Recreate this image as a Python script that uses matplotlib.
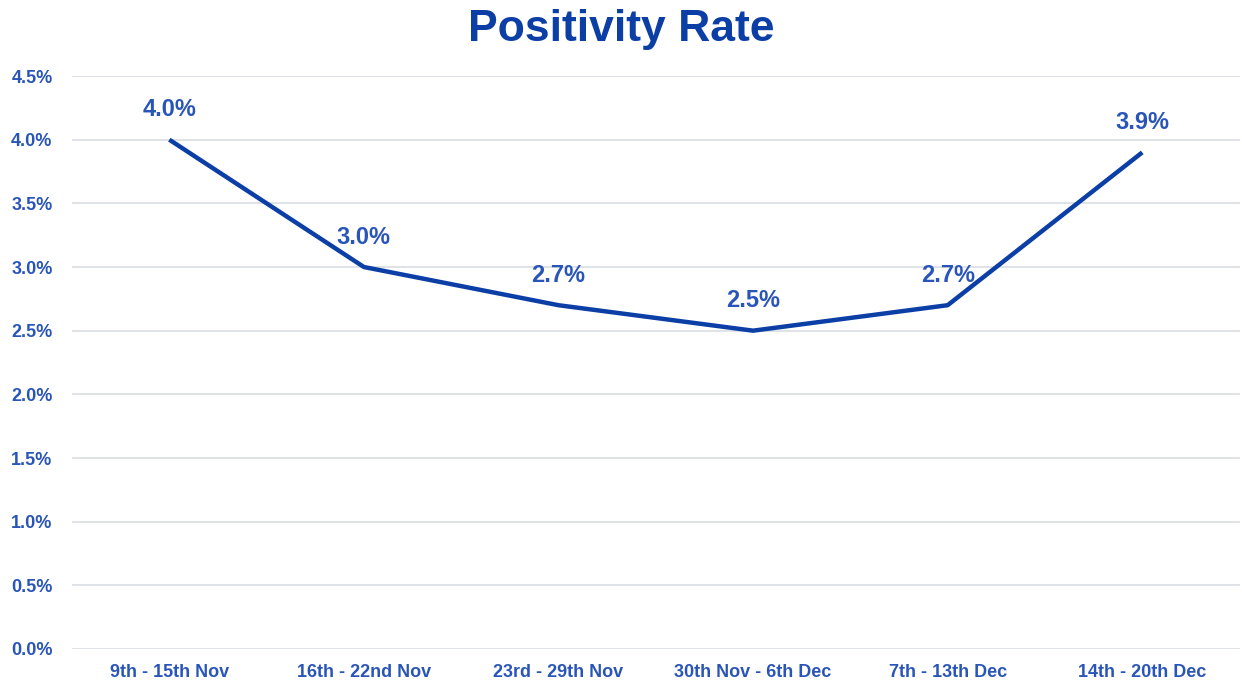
import matplotlib.pyplot as plt
from matplotlib.ticker import FuncFormatter, MultipleLocator

plt.rcParams['font.family'] = ['Liberation Sans', 'DejaVu Sans']

weeks = ['9th - 15th Nov', '16th - 22nd Nov', '23rd - 29th Nov',
         '30th Nov - 6th Dec', '7th - 13th Dec', '14th - 20th Dec']
rates = [0.040, 0.030, 0.027, 0.025, 0.027, 0.039]

LINE = '#0B3FA6'
TXT = '#2A55B8'

fig = plt.figure(figsize=(12.42, 6.88), dpi=100)
ax = fig.add_axes([0.058, 0.0567, 0.94, 0.8328])

x = list(range(len(weeks)))
ax.plot(x, rates, color=LINE, lw=3.2, solid_capstyle='butt', zorder=3)
for i, v in zip(x, rates):
    ax.annotate('{:.1%}'.format(v), (i, v), xytext=(0, 21.5),
                textcoords='offset points', ha='center', va='center',
                color=TXT, fontsize=17, fontweight='bold', zorder=4)

ax.set_xlim(-0.5, len(weeks) - 0.5)
ax.set_ylim(0, 0.045)
ax.yaxis.set_major_locator(MultipleLocator(0.005))
ax.yaxis.set_major_formatter(FuncFormatter(lambda v, p: '{:.1%}'.format(v)))
ax.set_xticks(x)
ax.set_xticklabels(weeks)
ax.grid(axis='y', color='#D9DEE3', lw=1.2)
ax.set_axisbelow(True)
for s in ax.spines.values():
    s.set_visible(False)
ax.tick_params(length=0, labelsize=13, labelcolor=TXT)
ax.tick_params(axis='y', pad=14)
ax.tick_params(axis='x', pad=11)
for t in ax.get_xticklabels() + ax.get_yticklabels():
    t.set_fontweight('bold')

fig.text(0.5, 0.957, 'Positivity Rate', ha='center', va='center',
         fontsize=32, fontweight='bold', color='#0B3FA6')

fig.savefig('out.png', dpi=100)
